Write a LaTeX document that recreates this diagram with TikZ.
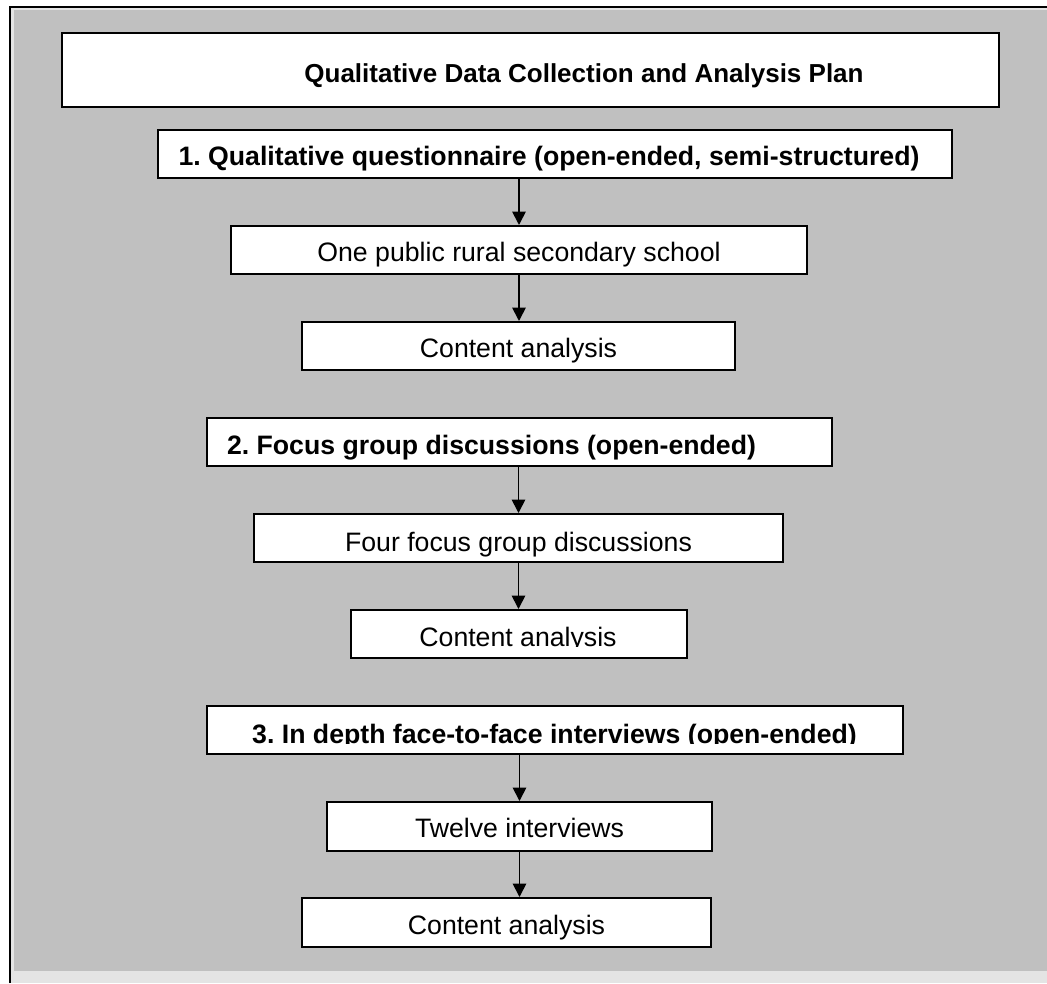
\documentclass[tikz,border=0pt]{standalone}
\usepackage{fontspec}
\setmainfont{Liberation Sans}
\usetikzlibrary{arrows.meta}
\frenchspacing
\definecolor{panelgray}{HTML}{C0C0C0}
\definecolor{stripgray}{HTML}{E4E4E4}
\tikzset{
  box/.style={draw=black, line width=1.5pt, fill=white, inner sep=0pt, minimum height=36pt},
  txt/.style={inner sep=0pt, anchor=base, font=\fontsize{20}{24}\selectfont},
  btxt/.style={txt, font=\fontsize{20}{24}\selectfont\bfseries},
  arr/.style={line width=1.3pt, -{Triangle[length=10pt,width=10pt]}}
}
\begin{document}
\begin{tikzpicture}[x=0.75pt, y=-0.75pt]
\useasboundingbox (0,0) rectangle (1047,983);
% background panel
\fill[white] (0,0) rectangle (1047,983);
\fill[stripgray] (11,8) rectangle (1047,983);
\fill[panelgray] (14,10) rectangle (1047,971);
\draw[line width=1.5pt] (10,983) -- (10,7) -- (1047,7);

% title
\node[box, minimum width=702.75pt, minimum height=55.5pt] (title) at (530.5,70) {};
\node[btxt, font=\fontsize{19.5}{24}\selectfont\bfseries] (titletext) at (584,82) {Qualitative Data Collection and Analysis Plan};

% section 1
\node[box, minimum width=595.5pt] (q1) at (555,154) {};
\node[btxt] (q1t) at (549,165) {1. Qualitative questionnaire (open-ended, semi-structured)};
\node[box, minimum width=432pt] (s1) at (519,250) {};
\node[txt] (s1t) at (519,261) {One public rural secondary school};
\node[box, minimum width=324.75pt] (c1) at (518.5,346) {};
\node[txt] (c1t) at (518.5,357) {Content analysis};

% section 2
\node[box, minimum width=468.75pt] (q2) at (519.5,442) {};
\node[btxt] (q2t) at (491.5,454) {2. Focus group discussions (open-ended)};
\node[box, minimum width=396.75pt] (s2) at (518.5,538) {};
\node[txt] (s2t) at (518.5,551) {Four focus group discussions};
\node[box, minimum width=252pt] (c2) at (519,634) {};
\begin{scope}
\clip (351,610) rectangle (687,646);
\node[txt] (c2t) at (518,646) {Content analysis};
\end{scope}

% section 3
\node[box, minimum width=522pt] (q3) at (555,730) {};
\begin{scope}
\clip (207,706) rectangle (903,743);
\node[btxt] (q3t) at (554.5,743) {3. In depth face-to-face interviews (open-ended)};
\end{scope}
\node[box, minimum width=288.75pt, minimum height=36.75pt] (s3) at (519.5,826.5) {};
\node[txt] (s3t) at (519.5,837) {Twelve interviews};
\node[box, minimum width=306.75pt, minimum height=36.75pt] (c3) at (506.5,922.5) {};
\node[txt] (c3t) at (506.5,934) {Content analysis};

% connectors
\draw[arr] (q1.south -| s1.north) -- (s1.north);
\draw[arr] (s1.south) -- (s1.south |- c1.north);
\draw[arr] (q2.south -| s2.north) -- (s2.north);
\draw[arr] (s2.south) -- (s2.south |- c2.north);
\draw[arr] (q3.south -| s3.north) -- (s3.north);
\draw[arr] (s3.south) -- (s3.south |- c3.north);
\end{tikzpicture}
\end{document}
